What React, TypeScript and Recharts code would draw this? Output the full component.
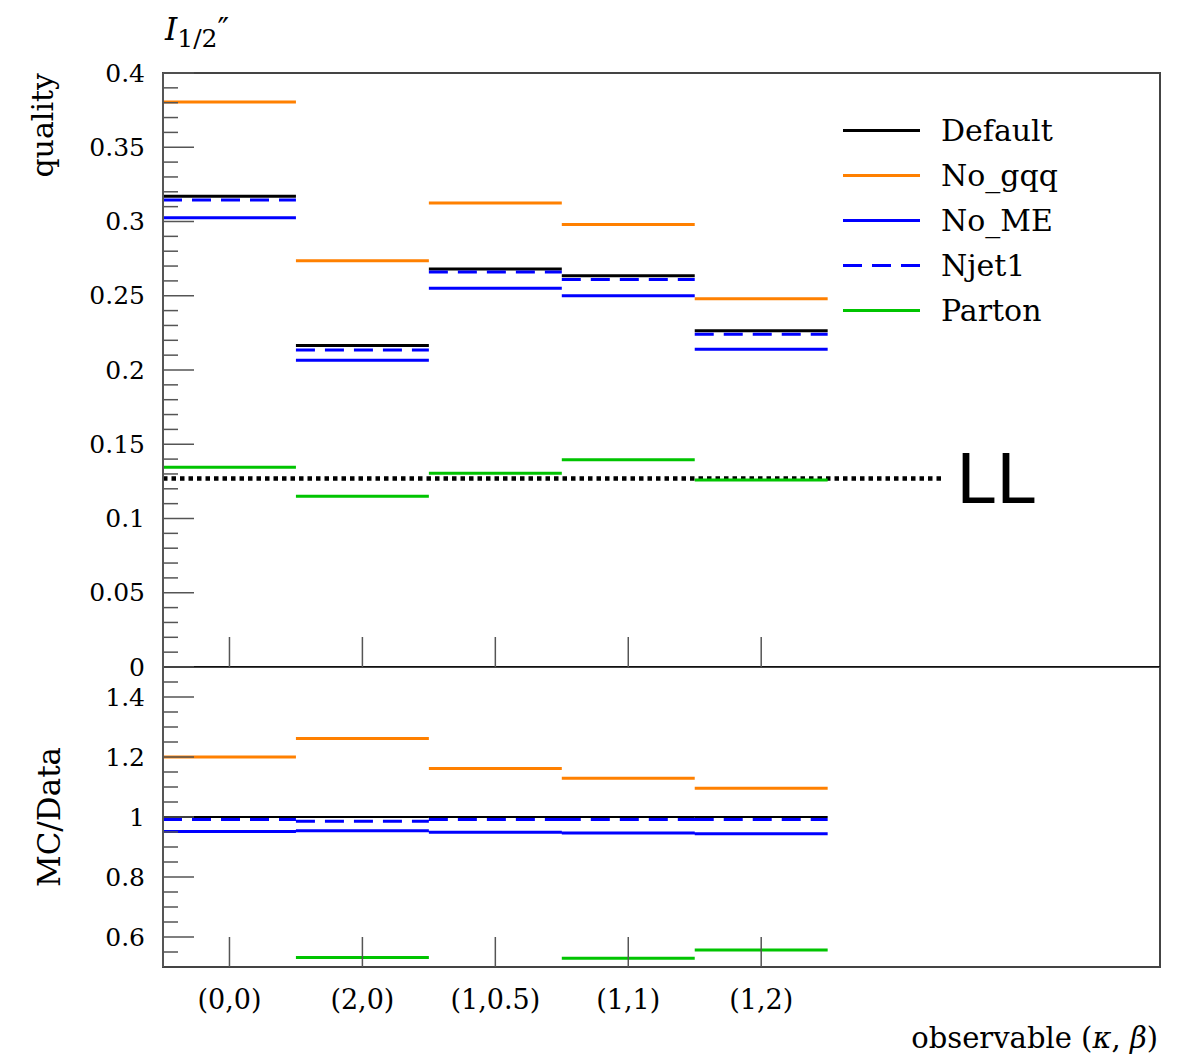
import React from 'react';
import { LineChart, Line, XAxis, YAxis, ReferenceArea, Legend } from 'recharts';

// observable bins
const categories = ['(0,0)', '(2,0)', '(1,0.5)', '(1,1)', '(1,2)'];

// upper panel: quality
const qDefault = [0.317, 0.2165, 0.268, 0.2635, 0.2265];
const qNoGqq = [0.3805, 0.2735, 0.3125, 0.298, 0.248];
const qNoME = [0.3025, 0.2065, 0.255, 0.25, 0.214];
const qNjet1 = [0.3145, 0.2135, 0.266, 0.261, 0.224];
const qParton = [0.1345, 0.115, 0.1305, 0.1395, 0.126];
const llValue = 0.127;
const llEnd = 5.88;

// lower panel: MC/Data
const rDefault = [1.0, 1.0, 1.0, 1.0, 1.0];
const rNoGqq = [1.2, 1.262, 1.162, 1.129, 1.096];
const rNoME = [0.952, 0.954, 0.949, 0.947, 0.944];
const rNjet1 = [0.992, 0.986, 0.992, 0.992, 0.992];
const rParton = [0.424, 0.532, 0.487, 0.529, 0.557];

// axis ticks
const topMajorTicks = [0, 0.05, 0.1, 0.15, 0.2, 0.25, 0.3, 0.35, 0.4];
const topTickLabels = ['0', '0.05', '0.1', '0.15', '0.2', '0.25', '0.3', '0.35', '0.4'];
const lowMajorTicks = [0.6, 0.8, 1.0, 1.2, 1.4];
const lowTickLabels = ['0.6', '0.8', '1', '1.2', '1.4'];

const X_MAX = 7.5;
const SERIF = '"DejaVu Serif", "Liberation Serif", serif';
const TICK_COLOR = '#555';

const series = [
    { name: 'Default', color: '#000000', dash: undefined as string | undefined, q: qDefault, r: rDefault },
    { name: 'No_gqq', color: '#ff8000', dash: undefined, q: qNoGqq, r: rNoGqq },
    { name: 'No_ME', color: '#0000ff', dash: undefined, q: qNoME, r: rNoME },
    { name: 'Njet1', color: '#0000ff', dash: '19 10', q: qNjet1, r: rNjet1 },
    { name: 'Parton', color: '#00c400', dash: undefined, q: qParton, r: rParton },
];

// one flat segment per bin, broken between bins
function steps(vals: number[]) {
    const out: { x: number; y: number | null }[] = [];
    vals.forEach((v, i) => {
        if (i > 0) out.push({ x: i, y: null });
        out.push({ x: i, y: v });
        out.push({ x: i + 1, y: v });
    });
    return out;
}

const binCentres = categories.map((_, i) => i + 0.5);

const topTicks: number[] = [];
for (let k = 0; k <= 40; k++) topTicks.push(k / 100);
const lowTicks: number[] = [];
for (let k = 11; k <= 29; k++) lowTicks.push(k / 20);

function labelFor(v: number, majors: number[], labels: string[]) {
    const i = majors.findIndex((m) => Math.abs(m - v) < 1e-6);
    return i >= 0 ? labels[i] : null;
}

const YTick = (majors: number[], labels: string[]) => (p: any) => {
    const v = p.payload.value;
    const lab = labelFor(v, majors, labels);
    return (
        <g>
            <line x1={p.x} x2={p.x + (lab ? 31 : 15)} y1={p.y} y2={p.y} stroke={TICK_COLOR} strokeWidth={1.5} />
            {lab && (
                <text x={p.x - 18} y={p.y} textAnchor="end" dominantBaseline="central" fontFamily={SERIF} fontSize={25} fill="#000">
                    {lab}
                </text>
            )}
        </g>
    );
};

const XTickTop = (p: any) => (
    <line x1={p.x} x2={p.x} y1={p.y} y2={p.y - 30} stroke={TICK_COLOR} strokeWidth={1.5} />
);

const XTickLow = (p: any) => {
    const idx = binCentres.findIndex((c) => Math.abs(c - p.payload.value) < 1e-6);
    return (
        <g>
            <line x1={p.x} x2={p.x} y1={p.y} y2={p.y - 30} stroke={TICK_COLOR} strokeWidth={1.5} />
            <text x={p.x} y={p.y + 42} textAnchor="middle" fontFamily={SERIF} fontSize={27} fill="#000">
                {categories[idx]}
            </text>
        </g>
    );
};

const renderLegend = () => (
    <div style={{ fontFamily: SERIF, fontSize: 30, color: '#000' }}>
        {series.map((s) => (
            <div key={s.name} style={{ height: 45, display: 'flex', alignItems: 'center' }}>
                <svg width={98} height={45} style={{ display: 'block' }}>
                    <line x1={0} x2={77} y1={22.5} y2={22.5} stroke={s.color} strokeWidth={3} strokeDasharray={s.dash} />
                </svg>
                <span style={{ lineHeight: '45px' }}>{s.name}</span>
            </div>
        ))}
    </div>
);

export default function App() {
    return (
        <div style={{ position: 'absolute', left: 0, top: 0, width: 1190, height: 1058, background: '#fff' }}>
            <div style={{ position: 'absolute', left: 0, top: 0 }}>
                <LineChart width={1190} height={680} margin={{ top: 73, right: 30, bottom: 3, left: 103 }}>
                    <XAxis
                        type="number"
                        dataKey="x"
                        domain={[0, X_MAX]}
                        ticks={binCentres}
                        interval={0}
                        allowDataOverflow
                        height={10}
                        tickSize={0}
                        tickMargin={0}
                        axisLine={{ stroke: '#000', strokeWidth: 1.5 }}
                        tick={XTickTop}
                    />
                    <YAxis
                        type="number"
                        domain={[0, 0.4]}
                        ticks={topTicks}
                        interval={0}
                        allowDataOverflow
                        width={60}
                        tickSize={0}
                        tickMargin={0}
                        axisLine={{ stroke: TICK_COLOR, strokeWidth: 2 }}
                        tick={YTick(topMajorTicks, topTickLabels)}
                        label={(props: any) => {
                            const vb = props.viewBox;
                            return (
                                <g>
                                    <text
                                        x={53}
                                        y={vb.y}
                                        transform={`rotate(-90, 53, ${vb.y})`}
                                        textAnchor="end"
                                        fontFamily={SERIF}
                                        fontSize={30}
                                        fill="#000"
                                    >
                                        quality
                                    </text>
                                    <text x={165} y={40} fontFamily={SERIF} fontSize={31} fill="#000">
                                        <tspan fontStyle="italic">I</tspan>
                                        <tspan fontSize={25} dy={7}>1/2</tspan>
                                        <tspan dy={-7} fontSize={31}>″</tspan>
                                    </text>
                                </g>
                            );
                        }}
                    />
                    <ReferenceArea x1={0} x2={X_MAX} y1={0} y2={0.4} fill="none" stroke="#444" strokeWidth={2} />
                    <Line
                        data={[
                            { x: 0, y: llValue },
                            { x: llEnd, y: llValue },
                        ]}
                        dataKey="y"
                        type="linear"
                        stroke="#000"
                        strokeWidth={4.5}
                        strokeDasharray="4.5 4"
                        dot={false}
                        activeDot={false}
                        legendType="none"
                        isAnimationActive={false}
                        label={(p: any) =>
                            p.index === 1 ? (
                                <text
                                    key="ll"
                                    x={p.x + 12}
                                    y={p.y}
                                    dominantBaseline="central"
                                    fontFamily='"Liberation Sans", Arial, sans-serif'
                                    fontSize={72}
                                    fill="#000"
                                >
                                    LL
                                </text>
                            ) : (
                                <g key={`e${p.index}`} />
                            )
                        }
                    />
                    {series.map((s) => (
                        <Line
                            key={s.name}
                            name={s.name}
                            data={steps(s.q)}
                            dataKey="y"
                            type="linear"
                            stroke={s.color}
                            strokeWidth={3}
                            strokeDasharray={s.dash}
                            connectNulls={false}
                            dot={false}
                            activeDot={false}
                            isAnimationActive={false}
                        />
                    ))}
                    <Legend
                        layout="vertical"
                        align="center"
                        verticalAlign="middle"
                        content={renderLegend}
                        wrapperStyle={{ position: 'absolute', left: 843, top: 108, width: 300, height: 225 }}
                    />
                </LineChart>
            </div>

            <div style={{ position: 'absolute', left: 0, top: 667 }}>
                <LineChart width={1190} height={391} margin={{ top: 0, right: 30, bottom: 3, left: 103 }}>
                    <XAxis
                        type="number"
                        dataKey="x"
                        domain={[0, X_MAX]}
                        ticks={binCentres}
                        interval={0}
                        allowDataOverflow
                        height={88}
                        tickSize={0}
                        tickMargin={0}
                        axisLine={{ stroke: '#444', strokeWidth: 2 }}
                        tick={XTickLow}
                        label={(props: any) => {
                            const vb = props.viewBox;
                            return (
                                <text
                                    x={vb.x + vb.width - 2}
                                    y={vb.y + 81}
                                    textAnchor="end"
                                    fontFamily={SERIF}
                                    fontSize={29}
                                    fill="#000"
                                >
                                    observable (<tspan fontStyle="italic">κ</tspan>, <tspan fontStyle="italic">β</tspan>)
                                </text>
                            );
                        }}
                    />
                    <YAxis
                        type="number"
                        domain={[0.5, 1.5]}
                        ticks={lowTicks}
                        interval={0}
                        allowDataOverflow
                        width={60}
                        tickSize={0}
                        tickMargin={0}
                        axisLine={{ stroke: TICK_COLOR, strokeWidth: 2 }}
                        tick={YTick(lowMajorTicks, lowTickLabels)}
                        label={(props: any) => {
                            const vb = props.viewBox;
                            const cy = vb.y + vb.height / 2;
                            return (
                                <text
                                    x={60}
                                    y={cy}
                                    transform={`rotate(-90, 60, ${cy})`}
                                    textAnchor="middle"
                                    fontFamily={SERIF}
                                    fontSize={31}
                                    fill="#000"
                                >
                                    MC/Data
                                </text>
                            );
                        }}
                    />
                    <ReferenceArea x1={0} x2={X_MAX} y1={0.5} y2={1.5} fill="none" stroke="#444" strokeWidth={2} />
                    {series.map((s) => (
                        <Line
                            key={s.name}
                            name={s.name}
                            data={steps(s.r)}
                            dataKey="y"
                            type="linear"
                            stroke={s.color}
                            strokeWidth={s.name === 'Default' ? 2 : 3}
                            strokeDasharray={s.dash}
                            connectNulls={false}
                            dot={false}
                            activeDot={false}
                            isAnimationActive={false}
                        />
                    ))}
                </LineChart>
            </div>
        </div>
    );
}
